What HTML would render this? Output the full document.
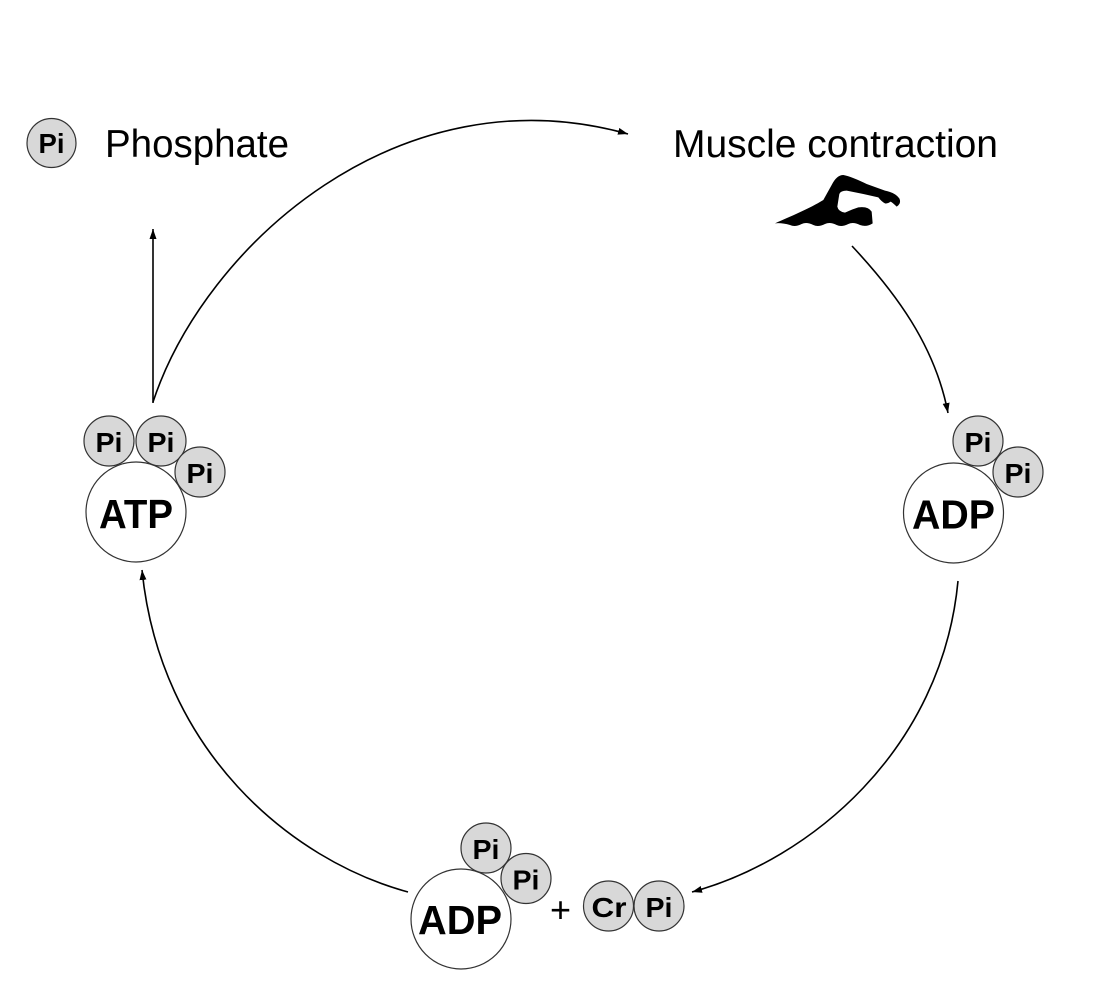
<!DOCTYPE html>
<html>
<head>
<meta charset="utf-8">
<style>
html,body{margin:0;padding:0;background:#fff;}
svg{display:block;}
text{font-family:"Liberation Sans",Arial,sans-serif;fill:#000;}
.b{font-weight:bold;}
</style>
</head>
<body>
<svg width="1119" height="981" viewBox="0 0 1119 981" xmlns="http://www.w3.org/2000/svg">
<defs>
<marker id="ah" markerUnits="userSpaceOnUse" markerWidth="11" markerHeight="8" refX="10" refY="3.5" orient="auto">
<path d="M0,0 L10,3.5 L0,7 z" fill="#000"/>
</marker>
</defs>
<rect width="1119" height="981" fill="#fff"/>

<!-- connectors -->
<g fill="none" stroke="#000" stroke-width="1.6">
<path d="M153,403 L153,229" marker-end="url(#ah)"/>
<path d="M153,402 C205,245 400,70 628,134" marker-end="url(#ah)"/>
<path d="M852,246 C895,292 935,345 948,413" marker-end="url(#ah)"/>
<path d="M958,581 C942,750 810,860 692,892" marker-end="url(#ah)"/>
<path d="M408,892 C290,860 160,750 142,570" marker-end="url(#ah)"/>
</g>

<!-- legend -->
<circle cx="51.5" cy="143" r="24.5" fill="#d8d8d8" stroke="#333" stroke-width="1.2"/>
<text class="b" x="51.5" y="153" font-size="28" text-anchor="middle" textLength="26" lengthAdjust="spacingAndGlyphs">Pi</text>
<text x="105" y="157" font-size="38.5" textLength="184" lengthAdjust="spacingAndGlyphs">Phosphate</text>
<text x="673" y="157" font-size="38.5" textLength="325" lengthAdjust="spacingAndGlyphs">Muscle contraction</text>

<!-- swimmer -->
<g transform="translate(770,170) scale(0.3333)">
<path fill="#000" d="M15,160 C60,140 120,115 160,90 L185,45 Q200,15 220,15 Q245,20 290,42 L345,62 Q375,68 388,85 Q395,100 380,110 Q370,100 362,95 Q352,102 345,100 Q335,95 325,82 L280,72 L230,62 Q212,62 208,72 L202,110 Q205,125 225,128 Q245,118 265,112 Q295,108 305,125 L308,160 Q290,172 270,165 Q250,155 235,162 Q215,172 200,165 Q180,155 165,162 Q145,172 130,165 Q110,155 95,162 Q75,172 60,165 Q35,158 15,160 Z"/>
</g>

<!-- ATP -->
<g stroke="#333" stroke-width="1.2">
<circle cx="136" cy="512" r="50" fill="#fff"/>
<circle cx="109" cy="441" r="25" fill="#d8d8d8"/>
<circle cx="161" cy="441" r="25" fill="#d8d8d8"/>
<circle cx="200" cy="472" r="25" fill="#d8d8d8"/>
</g>
<text class="b" x="109" y="452" font-size="28" text-anchor="middle" textLength="27" lengthAdjust="spacingAndGlyphs">Pi</text>
<text class="b" x="161" y="452" font-size="28" text-anchor="middle" textLength="27" lengthAdjust="spacingAndGlyphs">Pi</text>
<text class="b" x="200" y="483" font-size="28" text-anchor="middle" textLength="27" lengthAdjust="spacingAndGlyphs">Pi</text>
<text class="b" x="136" y="528" font-size="41" text-anchor="middle" textLength="74" lengthAdjust="spacingAndGlyphs">ATP</text>

<!-- right ADP -->
<g stroke="#333" stroke-width="1.2">
<circle cx="953.5" cy="513" r="50" fill="#fff"/>
<circle cx="978" cy="441" r="25" fill="#d8d8d8"/>
<circle cx="1018" cy="472" r="25" fill="#d8d8d8"/>
</g>
<text class="b" x="978" y="452" font-size="28" text-anchor="middle" textLength="27" lengthAdjust="spacingAndGlyphs">Pi</text>
<text class="b" x="1018" y="483" font-size="28" text-anchor="middle" textLength="27" lengthAdjust="spacingAndGlyphs">Pi</text>
<text class="b" x="953.5" y="528.5" font-size="41" text-anchor="middle" textLength="83" lengthAdjust="spacingAndGlyphs">ADP</text>

<!-- bottom ADP + CrPi -->
<g stroke="#333" stroke-width="1.2">
<circle cx="461" cy="919" r="50" fill="#fff"/>
<circle cx="486" cy="848" r="25" fill="#d8d8d8"/>
<circle cx="526" cy="878.5" r="25" fill="#d8d8d8"/>
<circle cx="608.5" cy="906" r="25" fill="#d8d8d8"/>
<circle cx="659" cy="906" r="25" fill="#d8d8d8"/>
</g>
<text class="b" x="486" y="859" font-size="28" text-anchor="middle" textLength="27" lengthAdjust="spacingAndGlyphs">Pi</text>
<text class="b" x="526" y="889.5" font-size="28" text-anchor="middle" textLength="27" lengthAdjust="spacingAndGlyphs">Pi</text>
<text class="b" x="460" y="934" font-size="41" text-anchor="middle" textLength="84" lengthAdjust="spacingAndGlyphs">ADP</text>
<text x="560.5" y="922" font-size="36" text-anchor="middle">+</text>
<text class="b" x="609" y="917" font-size="28" text-anchor="middle" textLength="35" lengthAdjust="spacingAndGlyphs">Cr</text>
<text class="b" x="659" y="917" font-size="28" text-anchor="middle" textLength="27" lengthAdjust="spacingAndGlyphs">Pi</text>
</svg>
</body>
</html>
